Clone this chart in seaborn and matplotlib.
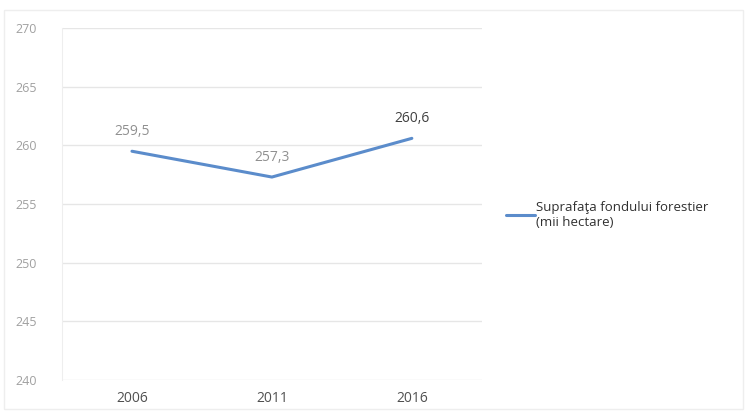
#!/usr/bin/env python3
"""Suprafata fondului forestier, 2006-2016"""

import matplotlib
matplotlib.use('Agg')
import matplotlib.pyplot as plt
import seaborn as sns
import pandas as pd

years = ['2006', '2011', '2016']
area = [259.5, 257.3, 260.6]
y_ticks = [240, 245, 250, 255, 260, 265, 270]
series_label = 'Suprafaţa fondului forestier\n(mii hectare)'

sns.set_style('white')
plt.rcParams['font.family'] = ['Open Sans', 'DejaVu Sans']

df = pd.DataFrame({'year': years, 'area': area})

fig = plt.figure(figsize=(7.47, 4.13), dpi=100)
ax = fig.add_axes([0.083, 0.080, 0.562, 0.852])

line_color = '#5b8ccb'
sns.lineplot(data=df, x='year', y='area', ax=ax, color=line_color,
             linewidth=2.2, sort=False, label=series_label)

ax.set_xlim(-0.5, 2.5)
ax.set_ylim(240, 270)
ax.set_yticks(y_ticks)
ax.set_xlabel('')
ax.set_ylabel('')
ax.grid(axis='y', color='#e6e6e6', linewidth=1)
ax.grid(axis='x', visible=False)
for side in ['top', 'right', 'bottom']:
    ax.spines[side].set_visible(False)
ax.spines['left'].set_color('#eeeeee')
ax.tick_params(axis='y', length=0, labelsize=9, labelcolor='#a0a0a0', pad=18)
ax.tick_params(axis='x', length=0, labelsize=10, labelcolor='#505050', pad=8)

# data labels with decimal comma
for i, v in enumerate(area):
    txt = f'{v:.1f}'.replace('.', ',')
    color = '#404040' if i == 2 else '#909090'
    ax.annotate(txt, (i, v), xytext=(0, 9), textcoords='offset points',
                ha='center', va='bottom', fontsize=10, color=color)

leg = ax.legend(loc='center left', bbox_to_anchor=(1.03, 0.47), frameon=False,
                fontsize=9.5, handlelength=2.2, handletextpad=0.05)
for t in leg.get_texts():
    t.set_color('#303030')

# faint outer chart frame
fig.patches.append(plt.Rectangle((0.005, 0.01), 0.99, 0.965, transform=fig.transFigure,
                                 fill=False, edgecolor='#eeeeee', linewidth=1))

plt.savefig('out.png', dpi=100)
